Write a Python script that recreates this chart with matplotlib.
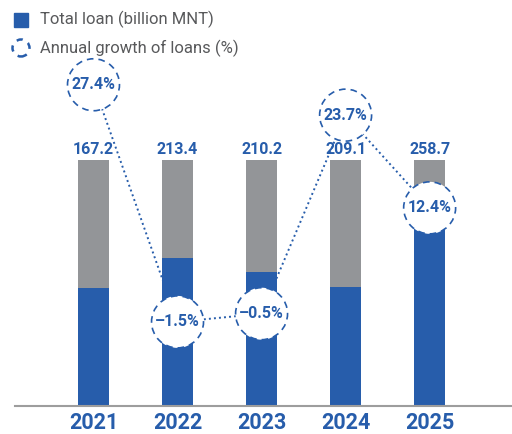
import numpy as np
import matplotlib.pyplot as plt
from matplotlib.patches import Rectangle

years = ["2021", "2022", "2023", "2024", "2025"]
total_loan = [167.2, 213.4, 210.2, 209.1, 258.7]
blue_share = [0.48, 0.60, 0.545, 0.485, 0.845]
growth = [27.4, -1.5, -0.5, 23.7, 12.4]
growth_labels = ["27.4%", "\u20131.5%", "\u20130.5%", "23.7%", "12.4%"]

BLUE = "#275dab"
GREY = "#939598"
TEXT = "#58595b"
FONT = ["Roboto", "DejaVu Sans"]

fig = plt.figure(figsize=(5.12, 4.34), dpi=100)
ax = fig.add_axes([15 / 512, 28 / 434, 497 / 512, 406 / 434])

x = np.arange(len(years))
grey_share = [1 - s for s in blue_share]
ax.bar(x, blue_share, width=0.37, color=BLUE, zorder=2)
ax.bar(x, grey_share, width=0.37, bottom=blue_share, color=GREY, zorder=2)

for xi, v in zip(x, total_loan):
    ax.text(xi, 1.012, f"{v:.1f}", ha="center", va="bottom", color=BLUE,
            fontsize=11.5, fontweight="bold", family=FONT)

ax.set_xlim(-0.934, 4.98)
ax.set_ylim(0, 1.65)
ax.set_xticks(x)
ax.set_xticklabels(years, color=BLUE, fontsize=15.5, fontweight="bold", family=FONT)
ax.tick_params(axis="x", length=0, pad=4)
ax.set_yticks([])
for s in ["top", "left", "right"]:
    ax.spines[s].set_visible(False)
ax.spines["bottom"].set_color("#9d9d9d")
ax.spines["bottom"].set_linewidth(1.5)

# growth line on a second scale
ax2 = ax.twinx()
ax2.set_ylim(-11.75, 37.73)
ax2.axis("off")
ax2.plot(x, growth, linestyle=(0, (1, 1.6)), color=BLUE, linewidth=1.4, zorder=3)
ax2.scatter(x, growth, s=1400, facecolor="white", edgecolor=BLUE,
            linewidths=1.2, linestyle=(0, (4, 3)), zorder=4)
for xi, g, lab in zip(x, growth, growth_labels):
    ax2.text(xi, g, lab, ha="center", va="center", color=BLUE,
             fontsize=11.5, fontweight="bold", family=FONT, zorder=5)

# legend drawn by hand
fig.patches.append(Rectangle((14 / 512, 1 - 27 / 434), 14 / 512, 14 / 434,
                             transform=fig.transFigure, color=BLUE))
fig.text(40 / 512, 1 - 19 / 434, "Total loan (billion MNT)", color=TEXT,
         fontsize=12, va="center", family=FONT)
lg = fig.add_axes([0, 0, 1, 1], zorder=10)
lg.set_xlim(0, 512)
lg.set_ylim(434, 0)
lg.axis("off")
lg.scatter([21], [48], s=150, facecolor="white", edgecolor=BLUE,
           linewidths=1.8, linestyle=(0, (2.5, 2.5)))
fig.text(40 / 512, 1 - 48 / 434, "Annual growth of loans (%)", color=TEXT,
         fontsize=12, va="center", family=FONT)

fig.savefig("out.png", dpi=100)
